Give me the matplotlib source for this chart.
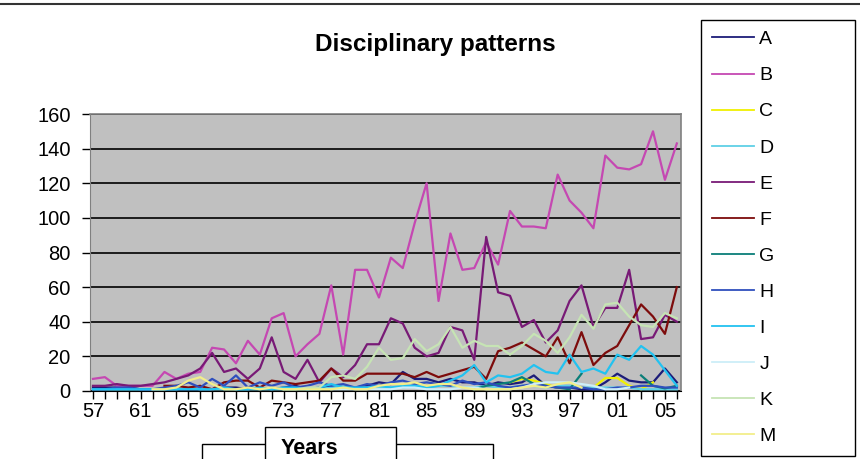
import numpy as np
import matplotlib.pyplot as plt
from matplotlib.lines import Line2D
from matplotlib.patches import Rectangle

plt.rcParams['font.family'] = ['Liberation Sans', 'DejaVu Sans']

nan = np.nan

# years 1957 - 2006
years = ['%02d' % (y % 100) for y in range(1957, 2007)]

A = [2, 2, 2, 2, 1, 1, 1, 1, 1, 1,
     1, 2, 2, 1, 2, 1, 2, 3, 1, 2,
     3, 2, 2, 3, 5, 4, 11, 7, 7, 5,
     7, 5, 5, 3, 5, 4, 5, 9, 3, 2,
     2, 1, 1, 5, 10, 6, 5, 5, 13, 5]
B = [7, 8, 3, 3, 3, 3, 11, 7, 10, 11,
     25, 24, 16, 29, 21, 42, 45, 20, 27, 33,
     61, 21, 70, 70, 54, 77, 71, 97, 120, 52,
     91, 70, 71, 86, 73, 104, 95, 95, 94, 125,
     110, 103, 94, 136, 129, 128, 131, 150, 122, 143]
C = [nan] * 35 + [5, 7, 6, 4, 2] + [nan, nan] + [2, 7.5, 7.5, 3, 1, 5, nan, nan]
D = [1, 1, 1, 1, 1, 1, 1, 1, 2, 1,
     1, 1, 1, 1, 1, 1, 1, 1, 1, 1,
     2, 3, 2, 2, 2, 2, 2, 3, 2, 3,
     3, 2, 2, 3, 2, 2, 3, 3, 2, 3,
     3, 2, 2, 2, 2, 2, 1, 1, 1, 1]
E = [3, 3, 4, 3, 3, 4, 5, 7, 9, 13,
     22, 11, 13, 7, 13, 31, 11, 7, 18, 5,
     13, 8, 15, 27, 27, 42, 39, 25, 20, 22,
     37, 35, 18, 89, 57, 55, 37, 41, 28, 35,
     52, 61, 37, 48, 48, 70, 30, 31, 44, 40]
F = [nan, nan, nan, nan, nan, nan, 3, 3, 2, 3,
     1, 5, 6, 6, 2, 6, 5, 4, 5, 6,
     13, 6, 6, 10, 10, 10, 10, 8, 11, 8,
     10, 12, 14, 7, 23, 25, 28, 24, 20, 31,
     16, 34, 15, 22, 26, 38, 50, 43, 33, 60]
G = [nan] * 32 + [1, 3, 4, 5, 8, 4, 3, 2, 1, 10] + [nan] * 4 + [9, 3, 1.5, 3]
H = [1, 1, 2, 2, 1, 1, 2, 3, 5, 2,
     7, 3, 9, 2, 5, 3, 5, 2, 3, 5,
     3, 4, 2, 4, 3, 5, 6, 4, 5, 4,
     3, 6, 4, 5, 3, 2, 3, 4, 3, 2,
     2, 2, 1, 1, 2, 2, 3, 3, 2, 2]
I = [1, 1, 1, 1, 1, 1, 1, 1, 1, 1,
     1, 2, 1, 1, 2, 1, 2, 2, 1, 2,
     4, 2, 2, 2, 3, 2, 3, 3, 2, 3,
     6, 9, 15, 5, 9, 8, 10, 15, 11, 10,
     21, 11, 13, 10, 21, 18, 26, 21, 12, 3]
J = [nan] * 20 + [1, 1, 1, 1, 1, 1, 2, 2, 1, 1, 1, 2, 2, 1, 1, 1] + \
    [2, 4, 5, 5, 5, 4, 3, 1, 1, 2] + [nan] * 4
K = [nan] * 16 + [1, 1, 2, 2,
                  8, 9, 7, 14, 25, 18, 19, 30, 23, 27,
                  37, 25, 29, 26, 26, 21, 26, 33, 29, 22,
                  31, 44, 36, 50, 51, 43, 38, 37, 45, 42]
M = [nan] * 5 + [1, 1, 2, 6, 8,
                 4, 1, 1, 2, 1, 2, 1, 1, 1, 1,
                 1, 2, 1, 1, 3, 4, 4, 5, 3, 4,
                 4, 2, 1, 1, 1, 1, 2, 3, 2, 4,
                 5, 2] + [nan] * 8

names = ['A', 'B', 'C', 'D', 'E', 'F', 'G', 'H', 'I', 'J', 'K', 'M']
series = [A, B, C, D, E, F, G, H, I, J, K, M]
colors = ['#1c1c78', '#c548b2', '#f0f000', '#5fd0e6', '#781a76', '#7d0c0c',
          '#0b7e78', '#2f4fbd', '#22c2f0', '#cdeef8', '#c6e4b4', '#f2ee8a']

fig = plt.figure(figsize=(8.6, 4.59), dpi=100)
ax = fig.add_axes([90 / 860, 1 - 391 / 459, 591 / 860, 277 / 459])
ax.set_facecolor('#c0c0c0')

x = np.arange(len(years))
handles = []
for name, vals, c in zip(names, series, colors):
    ln, = ax.plot(x, vals, color=c, lw=1.6, label=name, zorder=3)
    handles.append(ln)

ax.set_xlim(-0.25, 49.35)
ax.set_ylim(0, 160)
ax.set_yticks(range(0, 161, 20))
ax.yaxis.grid(True, color='black', lw=1.2)
ax.set_axisbelow(True)
ax.set_xticks(x[::4])
ax.set_xticklabels(years[::4])
ax.set_xticks(x, minor=True)
ax.tick_params(axis='both', labelsize=14.5, direction='out', length=6, width=1, colors='black')
ax.tick_params(axis='x', which='minor', direction='out', length=6, width=1)
ax.tick_params(axis='y', pad=8)
ax.tick_params(axis='x', pad=2)
for s in ['top', 'right']:
    ax.spines[s].set_color('#808080')
    ax.spines[s].set_linewidth(1.2)
ax.spines['left'].set_color('#808080')
ax.spines['bottom'].set_color('black')

fig.text(435 / 860, 1 - 45 / 459, 'Disciplinary patterns', ha='center', va='center',
         fontsize=17.5, fontweight='bold')

leg = fig.legend(handles=handles, labels=names, loc='upper left',
                 bbox_to_anchor=(701 / 860, 1 - 20 / 459, 154 / 860, 0.0), mode='expand',
                 fontsize=14, handlelength=2.2, handletextpad=0.25, labelspacing=0.95,
                 borderpad=0.55, borderaxespad=0, fancybox=False, framealpha=1)
leg.get_frame().set_edgecolor('black')
leg.get_frame().set_linewidth(1)
for h in leg.get_lines():
    h.set_linewidth(1.3)

# top border line
fig.add_artist(Line2D([0, 1], [1 - 4 / 459] * 2, color='#333333', lw=1.5))

# axis title box
fig.add_artist(Rectangle((202 / 860, -0.1), 291 / 860, 0.1 + 15 / 459, fill=False,
                         edgecolor='black', lw=1, clip_on=False))
fig.add_artist(Rectangle((265 / 860, -0.1), 131 / 860, 0.1 + 32 / 459, facecolor='white',
                         edgecolor='black', lw=1, clip_on=False))
fig.text(309 / 860, 1 - 449 / 459, 'Years', ha='center', va='center',
         fontsize=15.5, fontweight='bold')

fig.savefig('out.png', dpi=100)
